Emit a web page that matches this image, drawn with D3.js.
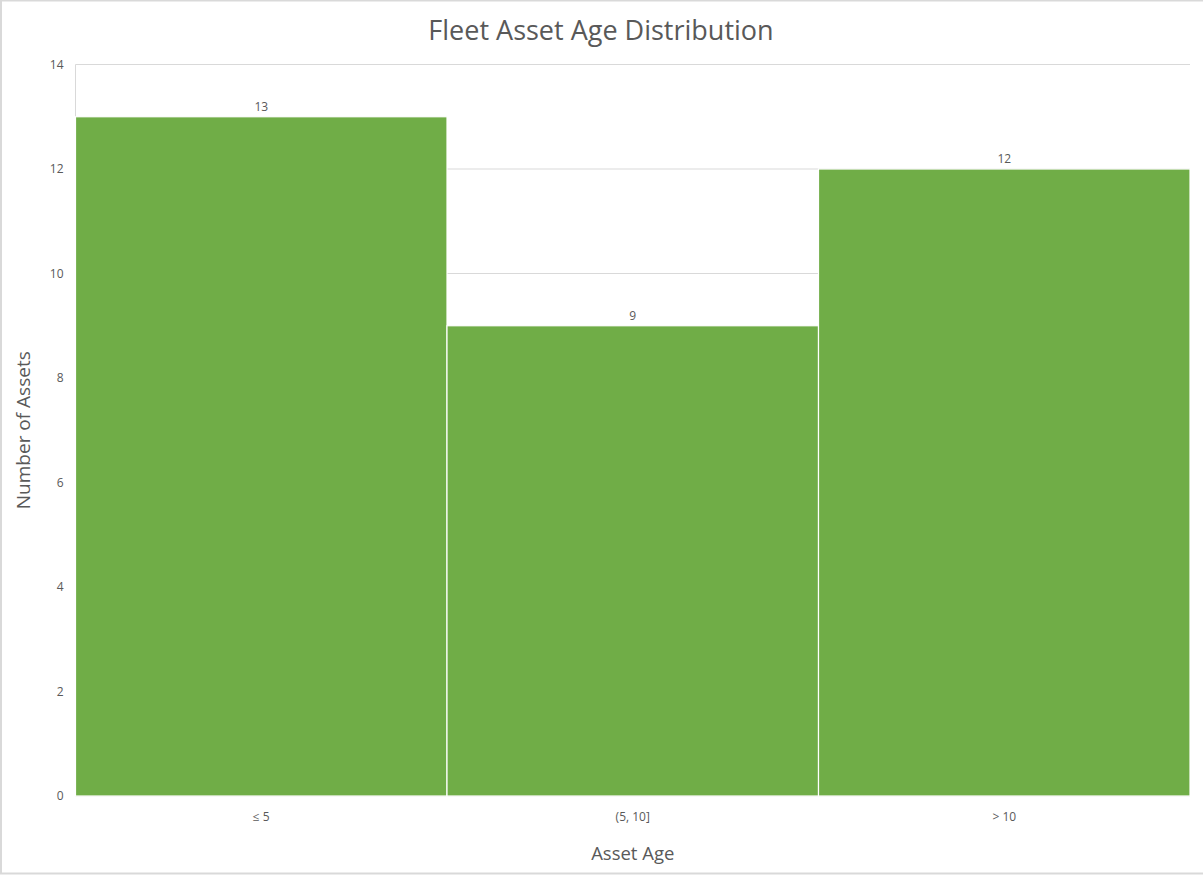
<!DOCTYPE html>
<html>
<head>
<meta charset="utf-8">
<script src="https://cdn.jsdelivr.net/npm/d3@7"></script>
<style>
  body { margin: 0; background: white; }
  text { font-family: "Open Sans", "Noto Sans", sans-serif; fill: #595959; }
</style>
</head>
<body>
<div id="container"></div>
<script>
let w = 1203;
let h = 875;

// DATA
let categories = ["≤ 5", "(5, 10]", "> 10"];
let counts = [13, 9, 12];
let yTicks = [0, 2, 4, 6, 8, 10, 12, 14];

let margin = { left: 75.5, right: 13, top: 64.5, bottom: 79 };

let viz = d3.select("#container").append("svg")
  .attr("width", w)
  .attr("height", h)
  .style("display", "block")

// chart border
viz.append("rect")
  .attr("x", 1)
  .attr("y", 0.5)
  .attr("width", w + 10)
  .attr("height", h - 2)
  .attr("fill", "white")
  .attr("stroke", "#d9d9d9")
  .attr("stroke-width", 2)

let xScale = d3.scaleBand()
  .domain(categories)
  .range([margin.left, w - margin.right])
  .paddingInner(0)
  .paddingOuter(0)

let yScale = d3.scaleLinear()
  .domain([0, 14])
  .range([h - margin.bottom, margin.top])

// gridlines
viz.selectAll(".grid").data(yTicks).enter()
  .append("line")
  .attr("class", "grid")
  .attr("x1", margin.left)
  .attr("x2", w - margin.right)
  .attr("y1", d => yScale(d))
  .attr("y2", d => yScale(d))
  .attr("stroke", "#d9d9d9")
  .attr("stroke-width", 1)

// left axis line
viz.append("line")
  .attr("x1", margin.left)
  .attr("x2", margin.left)
  .attr("y1", yScale(14))
  .attr("y2", yScale(0))
  .attr("stroke", "#d9d9d9")

// bars
viz.selectAll(".bar").data(counts).enter()
  .append("rect")
  .attr("class", "bar")
  .attr("x", (d, i) => xScale(categories[i]))
  .attr("y", d => yScale(d))
  .attr("width", xScale.bandwidth())
  .attr("height", d => yScale(0) - yScale(d))
  .attr("fill", "#70ad47")
  .attr("stroke", "white")
  .attr("stroke-width", 1.2)

// value labels
viz.selectAll(".val").data(counts).enter()
  .append("text")
  .attr("class", "val")
  .attr("x", (d, i) => xScale(categories[i]) + xScale.bandwidth() / 2)
  .attr("y", d => yScale(d) - 6)
  .attr("text-anchor", "middle")
  .attr("font-size", 12)
  .text(d => d)

// y axis
let yAxis = d3.axisLeft(yScale).tickValues(yTicks).tickSize(0).tickPadding(12)
viz.append("g")
  .attr("transform", "translate(" + margin.left + ",0)")
  .call(yAxis)
  .call(g => g.select(".domain").remove())
  .selectAll("text")
  .attr("font-size", 12)
  .attr("fill", "#595959")

// x axis
let xAxis = d3.axisBottom(xScale).tickSize(0).tickPadding(16)
viz.append("g")
  .attr("transform", "translate(0," + yScale(0) + ")")
  .call(xAxis)
  .call(g => g.select(".domain").remove())
  .selectAll("text")
  .attr("font-size", 12)
  .attr("fill", "#595959")

// title
viz.append("text")
  .attr("x", 601)
  .attr("y", 40)
  .attr("text-anchor", "middle")
  .attr("font-size", 27)
  .text("Fleet Asset Age Distribution")

// axis titles
viz.append("text")
  .attr("x", (margin.left + w - margin.right) / 2)
  .attr("y", 860)
  .attr("text-anchor", "middle")
  .attr("font-size", 18.5)
  .text("Asset Age")

viz.append("text")
  .attr("transform", "translate(30," + ((yScale(0) + yScale(14)) / 2) + ") rotate(-90)")
  .attr("text-anchor", "middle")
  .attr("font-size", 19)
  .text("Number of Assets")
</script>
</body>
</html>
